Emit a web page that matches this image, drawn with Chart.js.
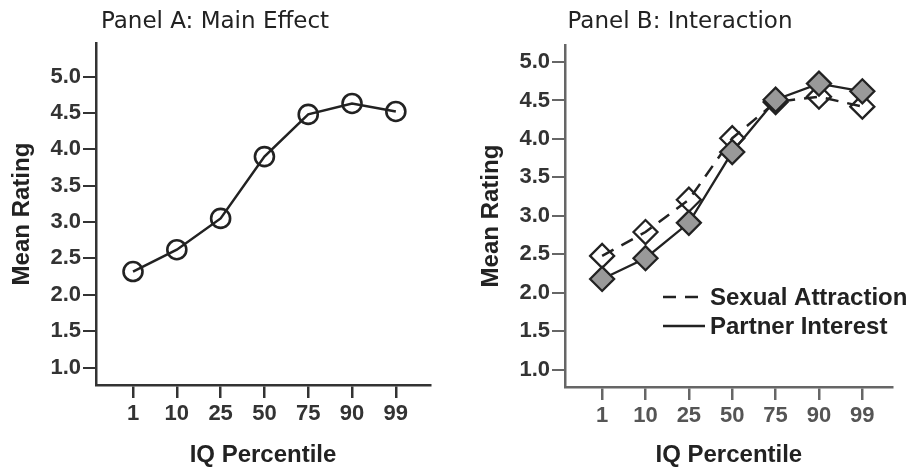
<!DOCTYPE html>
<html>
<head>
<meta charset="utf-8">
<script src="https://cdn.jsdelivr.net/npm/chart.js@4/dist/chart.umd.min.js"></script>
<style>
  html, body { margin: 0; padding: 0; background: #fff; }
  #wrap { position: relative; width: 907px; height: 470px; }
  .panel { position: absolute; top: 0; height: 470px; }
  #panelA { left: 0; width: 453px; }
  #panelB { left: 453px; width: 454px; }
</style>
</head>
<body>
<div id="wrap">
  <div class="panel" id="panelA"><canvas id="chartA"></canvas></div>
  <div class="panel" id="panelB"><canvas id="chartB"></canvas></div>
</div>
<script>
// categories (IQ percentile) and ratings
const percentiles = ['1', '10', '25', '50', '75', '90', '99'];
const mainEffect = [2.32, 2.62, 3.05, 3.90, 4.48, 4.63, 4.52];
const sexualAttraction = [2.48, 2.79, 3.21, 4.01, 4.48, 4.55, 4.42];
const partnerInterest = [2.18, 2.45, 2.91, 3.83, 4.51, 4.72, 4.62];
const yTicks = [1.0, 1.5, 2.0, 2.5, 3.0, 3.5, 4.0, 4.5, 5.0];

const tickFont = { family: "'Liberation Sans', Arial, sans-serif", size: 22, weight: 'bold' };
const axisTitleFont = { family: "'Liberation Sans', Arial, sans-serif", size: 24, weight: 'bold' };
const panelTitleFont = { family: "'DejaVu Sans', Verdana, sans-serif", size: 23, weight: 'normal' };

function pts(values) {
    return values.map((v, i) => ({ x: i, y: v }));
}

// legend drawn by hand so it can sit inside the plot, lower right
const innerLegend = {
    id: 'innerLegend',
    afterDraw(chart, args, opts) {
        if (!opts.items) return;
        const ctx = chart.ctx;
        ctx.save();
        ctx.font = 'bold 24px "Liberation Sans", Arial, sans-serif';
        ctx.textBaseline = 'middle';
        opts.items.forEach((it, k) => {
            const ds = chart.data.datasets[it];
            const y = opts.y + k * opts.rowGap;
            ctx.strokeStyle = '#222';
            ctx.lineWidth = 2.5;
            ctx.setLineDash(ds.borderDash || []);
            ctx.beginPath();
            ctx.moveTo(opts.x, y);
            ctx.lineTo(opts.x + opts.lineLen, y);
            ctx.stroke();
            ctx.setLineDash([]);
            ctx.fillStyle = '#222';
            ctx.fillText(ds.label, opts.x + opts.lineLen + 5, y + 1);
        });
        ctx.restore();
    }
};

function makeOptions(cfg) {
    return {
        responsive: false,
        animation: false,
        layout: { padding: { left: 0, right: cfg.padRight, top: 0, bottom: 0 } },
        plugins: {
            legend: { display: false },
            tooltip: { enabled: false },
            title: {
                display: true,
                text: cfg.title,
                color: '#222',
                font: panelTitleFont,
                padding: { top: 8, bottom: cfg.titleBottom }
            },
            innerLegend: cfg.legend || {}
        },
        scales: {
            x: {
                type: 'linear',
                min: cfg.xMin,
                max: cfg.xMax,
                afterBuildTicks: s => { s.ticks = percentiles.map((p, i) => ({ value: i })); },
                afterFit: s => { s.height = cfg.xHeight; },
                ticks: {
                    callback: (v) => percentiles[v],
                    color: cfg.xTickColor,
                    font: tickFont,
                    padding: 3,
                    maxRotation: 0,
                    autoSkip: false
                },
                grid: { drawOnChartArea: false, drawTicks: true, tickLength: 13, color: cfg.axisColor, lineWidth: 2.5 },
                border: { display: true, color: cfg.axisColor, width: 2.5 },
                title: { display: true, text: 'IQ Percentile', color: '#222', font: axisTitleFont, padding: { top: 0, bottom: cfg.xTitlePad } }
            },
            y: {
                min: cfg.yMin,
                max: cfg.yMax,
                afterBuildTicks: s => { s.ticks = yTicks.map(v => ({ value: v })); },
                afterFit: s => { s.width = cfg.yWidth; },
                ticks: {
                    callback: v => v.toFixed(1),
                    color: '#333',
                    font: tickFont,
                    padding: 2
                },
                grid: { drawOnChartArea: false, drawTicks: true, tickLength: 13, color: cfg.axisColor, lineWidth: 2 },
                border: { display: true, color: cfg.axisColor, width: 2.5 },
                title: { display: true, text: 'Mean Rating', color: '#222', font: axisTitleFont, padding: { top: cfg.yTitlePad, bottom: 0 } }
            }
        }
    };
}

const canvasA = document.getElementById('chartA');
canvasA.width = 453; canvasA.height = 470;
new Chart(canvasA, {
    type: 'line',
    data: {
        datasets: [{
            label: 'Main Effect',
            data: pts(mainEffect),
            borderColor: '#222',
            borderWidth: 2.5,
            pointStyle: 'circle',
            pointRadius: 9.5,
            pointBorderWidth: 2.6,
            pointBorderColor: '#222',
            pointBackgroundColor: 'rgba(0,0,0,0)',
            tension: 0
        }]
    },
    options: makeOptions({
        title: 'Panel A: Main Effect',
        titleBottom: 7.5,
        padRight: 23,
        xMin: -0.845, xMax: 6.78,
        yMin: 0.76, yMax: 5.46,
        xHeight: 85, yWidth: 96,
        xTitlePad: 0, yTitlePad: 8,
        axisColor: '#333',
        xTickColor: '#333'
    }),
    plugins: [innerLegend]
});

const canvasB = document.getElementById('chartB');
canvasB.width = 454; canvasB.height = 470;
new Chart(canvasB, {
    type: 'line',
    data: {
        datasets: [{
            label: 'Sexual Attraction',
            data: pts(sexualAttraction),
            order: 2,
            borderColor: '#222',
            borderWidth: 2.5,
            borderDash: [13, 9],
            pointStyle: 'rectRot',
            pointRadius: 12,
            pointBorderWidth: 2.3,
            pointBorderColor: '#222',
            pointBackgroundColor: 'rgba(255,255,255,0)',
            tension: 0
        }, {
            label: 'Partner Interest',
            data: pts(partnerInterest),
            order: 1,
            borderColor: '#222',
            borderWidth: 2.3,
            pointStyle: 'rectRot',
            pointRadius: 12,
            pointBorderWidth: 2.3,
            pointBorderColor: '#222',
            pointBackgroundColor: '#999999',
            tension: 0
        }]
    },
    options: makeOptions({
        title: 'Panel B: Interaction',
        titleBottom: 9.5,
        padRight: 0,
        xMin: -0.856, xMax: 6.70,
        yMin: 0.776, yMax: 5.22,
        xHeight: 83, yWidth: 112,
        xTitlePad: 0, yTitlePad: 24,
        axisColor: '#666',
        xTickColor: '#555',
        legend: { items: [0, 1], x: 210, y: 297, rowGap: 29, lineLen: 42 }
    }),
    plugins: [innerLegend]
});
</script>
</body>
</html>
